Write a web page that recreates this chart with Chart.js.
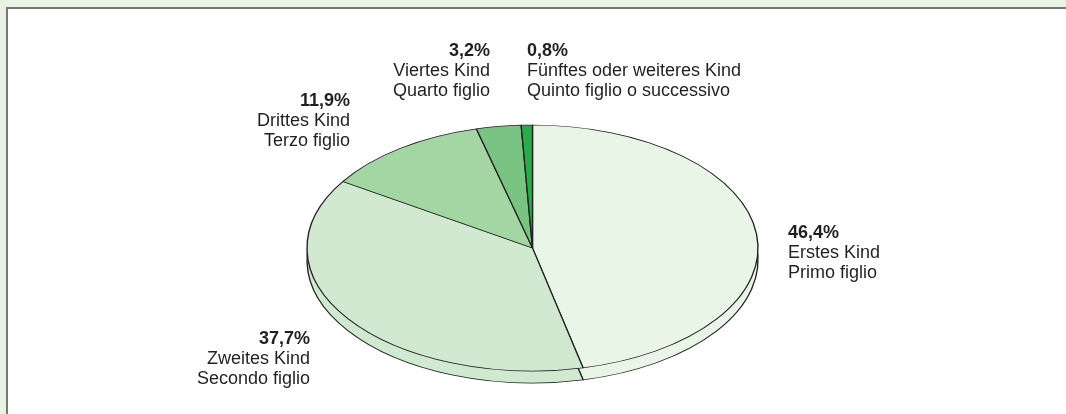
<!DOCTYPE html>
<html>
<head>
<meta charset="utf-8">
<script src="https://cdn.jsdelivr.net/npm/chart.js@4"></script>
<style>
  html, body { margin: 0; padding: 0; }
  body { width: 1066px; height: 414px; overflow: hidden; background: #e8f3e3; position: relative;
         font-family: "Liberation Sans", Arial, sans-serif; }
  #panel { position: absolute; left: 6px; top: 7px; width: 1080px; height: 420px; background: #fff;
           border-top: 2px solid #767676; border-left: 2px solid #767676; }
  #wrap { position: absolute; left: 0; top: 0; width: 1066px; height: 414px; }
  .lbl { position: absolute; font-size: 18px; line-height: 20px; color: #231f20; white-space: nowrap; }
  .lbl b { font-weight: bold; }
  .r { text-align: right; }
</style>
</head>
<body>
<div id="panel"></div>
<div id="wrap"><canvas id="c"></canvas></div>
<div id="labels"></div>
<script>
// ---- data ----
const categoriesDe = ['Erstes Kind', 'Zweites Kind', 'Drittes Kind', 'Viertes Kind', 'Fünftes oder weiteres Kind'];
const categoriesIt = ['Primo figlio', 'Secondo figlio', 'Terzo figlio', 'Quarto figlio', 'Quinto figlio o successivo'];
const shares = [46.4, 37.7, 11.9, 3.2, 0.8];

// ---- styles / layout ----
const sliceColors = ['#e9f5e7', '#d1e9d0', '#a3d6a2', '#79c482', '#2bac4a'];
const ELL = { cx: 532.5, cy: 248, rx: 225.5, ry: 123, depth: 12 };
// label anchors: [x, top, align]
const labelLayout = [
  [788, 222, 'left'],
  [310, 328, 'right'],
  [350, 90, 'right'],
  [490, 40, 'right'],
  [527, 40, 'left']
];

const fmt = v => v.toFixed(1).replace('.', ',') + '%';

const labelsDiv = document.getElementById('labels');
shares.forEach((v, i) => {
  const [x, top, align] = labelLayout[i];
  const d = document.createElement('div');
  d.className = 'lbl' + (align === 'right' ? ' r' : '');
  d.style.top = top + 'px';
  if (align === 'right') d.style.right = (1066 - x) + 'px'; else d.style.left = x + 'px';
  d.innerHTML = '<b>' + fmt(v) + '</b><br>' + categoriesDe[i] + '<br>' + categoriesIt[i];
  labelsDiv.appendChild(d);
});

const ellipsePlugin = {
  id: 'ellipse',
  beforeDatasetsDraw(chart) {
    const ctx = chart.ctx;
    const meta = chart.getDatasetMeta(0);
    const a0 = meta.data[0];
    const r = a0.outerRadius, cx = a0.x, cy = a0.y;
    const apply = dy => {
      ctx.translate(ELL.cx, ELL.cy + dy);
      ctx.scale(ELL.rx / r, ELL.ry / r);
      ctx.translate(-cx, -cy);
    };
    // side (depth) layer
    ctx.save();
    apply(ELL.depth);
    meta.data.forEach(arc => arc.draw(ctx));
    ctx.restore();
    // top surface drawn by Chart.js under this transform
    ctx.save();
    apply(0);
  },
  afterDatasetsDraw(chart) {
    chart.ctx.restore();
  }
};

new Chart(document.getElementById('c'), {
  type: 'pie',
  data: {
    labels: categoriesDe,
    datasets: [{
      data: shares,
      backgroundColor: sliceColors,
      borderColor: '#222',
      borderWidth: 1,
      hoverOffset: 0,
      offset: 0,
      clip: false
    }]
  },
  options: {
    responsive: true,
    maintainAspectRatio: false,
    animation: false,
    events: [],
    layout: { padding: { left: 366, right: 367, top: 82, bottom: 0 } },
    plugins: { legend: { display: false }, tooltip: { enabled: false } }
  },
  plugins: [ellipsePlugin]
});
</script>
</body>
</html>
